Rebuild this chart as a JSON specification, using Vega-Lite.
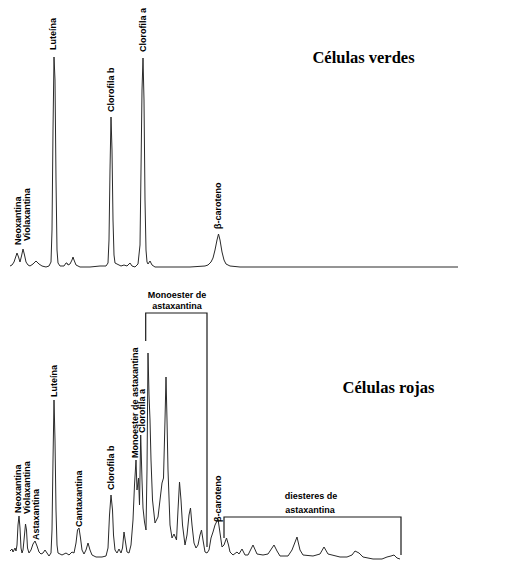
{
  "$schema": "https://vega.github.io/schema/vega-lite/v6.json",
  "padding": 0,
  "spacing": 0,
  "background": "white",
  "config": {"view": {"stroke": null}},
  "datasets": {
    "verde": [
      {"t":10,"s":1},{"t":12,"s":2},{"t":14,"s":5},{"t":16,"s":11},{"t":17,"s":14},{"t":18.5,"s":10},{"t":20,"s":5},{"t":21.5,"s":11},{"t":23,"s":18},{"t":24.5,"s":12},{"t":26,"s":5},{"t":28,"s":2},{"t":30,"s":1},{"t":33,"s":3},{"t":36,"s":6},{"t":39,"s":3},{"t":42,"s":1},{"t":46,"s":0},{"t":49,"s":1},{"t":51,"s":5},{"t":52,"s":37},{"t":53,"s":137},{"t":54,"s":210},{"t":55,"s":187},{"t":56,"s":87},{"t":57,"s":17},{"t":58,"s":4},{"t":60,"s":1},{"t":64,"s":1},{"t":66,"s":4},{"t":67,"s":4},{"t":68,"s":2},{"t":70,"s":3},{"t":72,"s":7},{"t":73,"s":10},{"t":74,"s":7},{"t":76,"s":2},{"t":80,"s":0},{"t":90,"s":0},{"t":100,"s":1},{"t":106,"s":1},{"t":108,"s":4},{"t":109,"s":27},{"t":110,"s":97},{"t":111,"s":150},{"t":112,"s":117},{"t":113,"s":47},{"t":114,"s":12},{"t":115,"s":4},{"t":117,"s":3},{"t":119,"s":2},{"t":121,"s":1},{"t":124,"s":2},{"t":127,"s":1},{"t":130,"s":4},{"t":132,"s":1},{"t":135,"s":0},{"t":138,"s":3},{"t":140,"s":22},{"t":141,"s":97},{"t":142,"s":177},{"t":143,"s":209},{"t":144,"s":167},{"t":145,"s":67},{"t":146,"s":17},{"t":147,"s":5},{"t":148,"s":3},{"t":150,"s":6},{"t":152,"s":2},{"t":155,"s":0},{"t":170,"s":0},{"t":190,"s":0},{"t":205,"s":1},{"t":208,"s":2},{"t":211,"s":5},{"t":213,"s":9},{"t":215,"s":17},{"t":217,"s":27},{"t":218.5,"s":33},{"t":220,"s":27},{"t":222,"s":15},{"t":224,"s":7},{"t":226,"s":3},{"t":230,"s":1},{"t":240,"s":0},{"t":300,"s":0},{"t":380,"s":0},{"t":458,"s":0}
    ],
    "roja": [
      {"t":10,"s":5},{"t":12,"s":7},{"t":13,"s":4},{"t":15,"s":8},{"t":16,"s":5},{"t":17,"s":11},{"t":18,"s":31},{"t":19,"s":40},{"t":20,"s":28},{"t":21,"s":8},{"t":22,"s":3},{"t":23,"s":6},{"t":24,"s":16},{"t":25.5,"s":32},{"t":26.5,"s":26},{"t":27.5,"s":8},{"t":29,"s":3},{"t":31,"s":6},{"t":33,"s":12},{"t":35,"s":15},{"t":37,"s":10},{"t":39,"s":4},{"t":41,"s":2},{"t":43,"s":3},{"t":45,"s":6},{"t":47,"s":3},{"t":49,"s":0},{"t":51,"s":3},{"t":52,"s":26},{"t":53,"s":96},{"t":54,"s":156},{"t":55,"s":116},{"t":56,"s":46},{"t":57,"s":11},{"t":58,"s":3},{"t":62,"s":1},{"t":66,"s":3},{"t":69,"s":1},{"t":72,"s":4},{"t":74,"s":3},{"t":76,"s":13},{"t":77.5,"s":26},{"t":79,"s":28},{"t":80.5,"s":18},{"t":82,"s":6},{"t":84,"s":2},{"t":86,"s":6},{"t":88,"s":13},{"t":90,"s":6},{"t":92,"s":1},{"t":96,"s":-1},{"t":102,"s":-1},{"t":106,"s":0},{"t":108,"s":8},{"t":109.5,"s":41},{"t":111,"s":61},{"t":112.5,"s":46},{"t":113.5,"s":21},{"t":115,"s":6},{"t":117,"s":3},{"t":119,"s":7},{"t":121,"s":3},{"t":122.5,"s":8},{"t":124,"s":24},{"t":125.5,"s":14},{"t":127,"s":4},{"t":129,"s":3},{"t":131,"s":11},{"t":133,"s":36},{"t":134.5,"s":71},{"t":136,"s":96},{"t":137,"s":66},{"t":138.5,"s":78},{"t":139.5,"s":51},{"t":140.7,"s":121},{"t":142,"s":76},{"t":143,"s":48},{"t":144.5,"s":34},{"t":146,"s":26},{"t":147,"s":86},{"t":148,"s":203},{"t":149,"s":161},{"t":150,"s":136},{"t":151,"s":96},{"t":152.5,"s":56},{"t":155,"s":33},{"t":158,"s":39},{"t":160,"s":56},{"t":162,"s":73},{"t":163.5,"s":78},{"t":165,"s":136},{"t":166,"s":179},{"t":167,"s":136},{"t":168,"s":86},{"t":170,"s":31},{"t":172,"s":18},{"t":174,"s":22},{"t":176.5,"s":16},{"t":178,"s":46},{"t":179.5,"s":74},{"t":181,"s":56},{"t":182.5,"s":31},{"t":185,"s":11},{"t":187,"s":21},{"t":189,"s":41},{"t":190.5,"s":48},{"t":192,"s":31},{"t":194,"s":13},{"t":196,"s":8},{"t":198,"s":11},{"t":200,"s":21},{"t":201.5,"s":26},{"t":203,"s":16},{"t":205,"s":4},{"t":207,"s":3},{"t":209,"s":6},{"t":211,"s":18},{"t":213,"s":24},{"t":215,"s":31},{"t":218,"s":37},{"t":220,"s":23},{"t":222,"s":9},{"t":224,"s":11},{"t":226.5,"s":18},{"t":228.5,"s":11},{"t":230,"s":4},{"t":233,"s":1},{"t":237,"s":4},{"t":239,"s":2},{"t":242,"s":7},{"t":245,"s":1},{"t":248,"s":1},{"t":253,"s":11},{"t":257,"s":2},{"t":263,"s":1},{"t":268,"s":2},{"t":274,"s":11},{"t":277,"s":5},{"t":280,"s":0},{"t":288,"s":0},{"t":292,"s":6},{"t":297,"s":19},{"t":300,"s":6},{"t":303,"s":1},{"t":313,"s":0},{"t":320,"s":2},{"t":324,"s":9},{"t":328,"s":2},{"t":340,"s":-1},{"t":347,"s":-1},{"t":352,"s":1},{"t":355,"s":5},{"t":359,"s":3},{"t":363,"s":-1},{"t":373,"s":-3},{"t":382,"s":-3},{"t":387,"s":-1},{"t":391,"s":0},{"t":394,"s":1},{"t":397,"s":-2},{"t":400,"s":-3}
    ],
    "etiq_v": [
      {"t":18,"s":22,"label":"Neoxantina"},
      {"t":27,"s":26,"label":"Violaxantina"},
      {"t":53,"s":217,"label":"Luteína"},
      {"t":111,"s":155,"label":"Clorofila b"},
      {"t":143,"s":215,"label":"Clorofila a"},
      {"t":218,"s":38,"label":"β-caroteno"}
    ],
    "etiq_r": [
      {"t":18,"s":43,"label":"Neoxantina"},
      {"t":26.5,"s":42,"label":"Violaxantina"},
      {"t":35.5,"s":16,"label":"Astaxantina"},
      {"t":54,"s":159,"label":"Luteína"},
      {"t":79,"s":29,"label":"Cantaxantina"},
      {"t":111,"s":66,"label":"Clorofila b"},
      {"t":135,"s":98,"label":"Monoester de astaxantina"},
      {"t":142,"s":123,"label":"Clorofila a"},
      {"t":218,"s":34,"label":"β-caroteno"}
    ],
    "grupos": [
      {"t":177,"s":261,"label":"Monoester de"},
      {"t":177,"s":250,"label":"astaxantina"},
      {"t":311,"s":60,"label":"diesteres de"},
      {"t":310,"s":46,"label":"astaxantina"}
    ],
    "corchetes": [
      {"g":"mono","o":1,"t":145.7,"s":215},
      {"g":"mono","o":2,"t":145.7,"s":243},
      {"g":"mono","o":3,"t":207,"s":243},
      {"g":"mono","o":4,"t":207,"s":9},
      {"g":"di","o":1,"t":224,"s":18},
      {"g":"di","o":2,"t":224,"s":39},
      {"g":"di","o":3,"t":401,"s":39},
      {"g":"di","o":4,"t":401,"s":1}
    ]
  },
  "vconcat": [
    {
      "width": 509,
      "height": 280,
      "encoding": {
        "x": {"field": "t", "type": "quantitative", "scale": {"domain": [0, 509], "nice": false, "zero": false}, "axis": null},
        "y": {"field": "s", "type": "quantitative", "scale": {"domain": [-13, 267], "nice": false, "zero": false}, "axis": null}
      },
      "layer": [
        {"data": {"name": "verde"}, "mark": {"type": "line", "color": "#2a2a2a", "strokeWidth": 1, "clip": true}},
        {"data": {"name": "etiq_v"}, "mark": {"type": "text", "angle": 270, "align": "left", "baseline": "middle", "font": "Liberation Sans", "fontWeight": "bold", "fontSize": 9, "color": "black"}, "encoding": {"text": {"field": "label"}}},
        {"data": {"values": [{"t": 363.5, "s": 204, "label": "Células verdes"}]}, "mark": {"type": "text", "align": "center", "baseline": "alphabetic", "font": "Liberation Serif", "fontWeight": "bold", "fontSize": 16.5, "color": "black"}, "encoding": {"text": {"field": "label"}}}
      ]
    },
    {
      "width": 509,
      "height": 281,
      "encoding": {
        "x": {"field": "t", "type": "quantitative", "scale": {"domain": [0, 509], "nice": false, "zero": false}, "axis": null},
        "y": {"field": "s", "type": "quantitative", "scale": {"domain": [-5, 276], "nice": false, "zero": false}, "axis": null}
      },
      "layer": [
        {"data": {"name": "roja"}, "mark": {"type": "line", "color": "#2a2a2a", "strokeWidth": 1, "clip": true}},
        {"data": {"name": "corchetes"}, "mark": {"type": "line", "color": "#1a1a1a", "strokeWidth": 1.2}, "encoding": {"detail": {"field": "g"}, "order": {"field": "o", "type": "quantitative"}}},
        {"data": {"name": "etiq_r"}, "mark": {"type": "text", "angle": 270, "align": "left", "baseline": "middle", "font": "Liberation Sans", "fontWeight": "bold", "fontSize": 9, "color": "black"}, "encoding": {"text": {"field": "label"}}},
        {"data": {"name": "grupos"}, "mark": {"type": "text", "align": "center", "baseline": "middle", "font": "Liberation Sans", "fontWeight": "bold", "fontSize": 9, "color": "black"}, "encoding": {"text": {"field": "label"}}},
        {"data": {"values": [{"t": 388.5, "s": 163, "label": "Células rojas"}]}, "mark": {"type": "text", "align": "center", "baseline": "alphabetic", "font": "Liberation Serif", "fontWeight": "bold", "fontSize": 16.5, "color": "black"}, "encoding": {"text": {"field": "label"}}}
      ]
    }
  ]
}
